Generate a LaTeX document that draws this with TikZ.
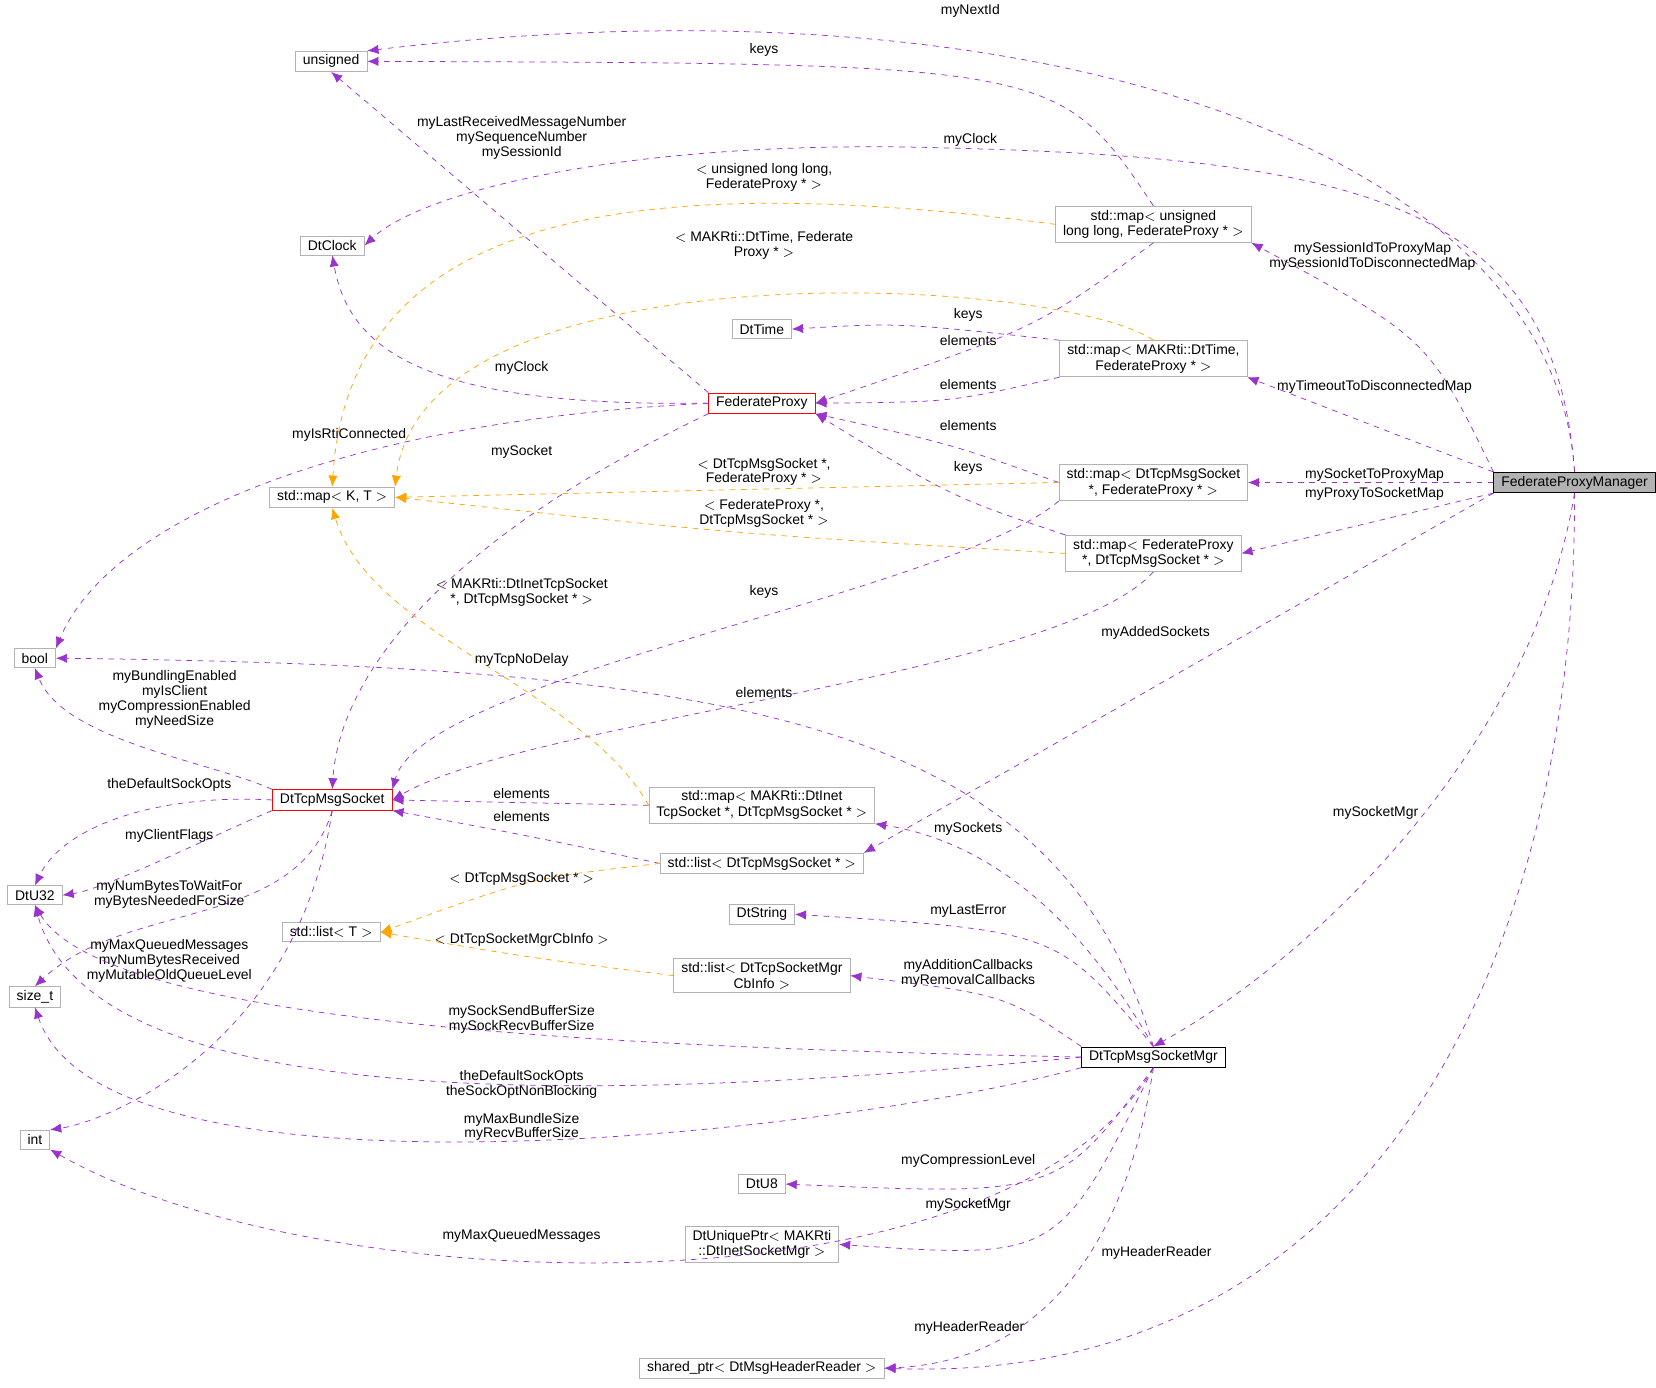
\documentclass[tikz,border=0pt]{standalone}
\usepackage{fontspec}
\setmainfont{Liberation Sans}
\usetikzlibrary{arrows.meta}
\definecolor{dep}{HTML}{9A32CD}
\definecolor{tmpl}{HTML}{FFA500}
\tikzset{
  cls/.style={draw=gray!60,fill=white,font=\fontsize{7.5}{8.5}\selectfont,align=center,inner xsep=4pt,inner ysep=2pt,minimum height=0.36cm},
  lbl/.style={font=\fontsize{7.5}{8}\selectfont,align=center,inner sep=0pt},
  use/.style={dep,dashed,thin,-{Latex[length=6pt,width=5pt]}},
  inst/.style={tmpl,dashed,thin,-{Latex[length=6pt,width=5pt]}}
}
\begin{document}
\begin{tikzpicture}[x=0.02cm,y=-0.02cm]
\useasboundingbox (0,0) rectangle (1565,1311);
% classes
\node[cls] (nUns) at (313,58) {unsigned};
\node[cls] (nClock) at (314,232) {DtClock};
\node[cls] (nTime) at (720,311) {DtTime};
\node[cls,draw=red] (nFP) at (720,381) {FederateProxy};
\node[cls] (nMapKT) at (314,470) {std::map$<$ K, T $>$};
\node[cls] (nBool) at (33,622) {bool};
\node[cls,draw=red] (nSock) at (314,756) {DtTcpMsgSocket};
\node[cls] (nU32) at (33,846) {DtU32};
\node[cls] (nListT) at (313,881) {std::list$<$ T $>$};
\node[cls] (nSize) at (33,942) {size\_t};
\node[cls] (nInt) at (33,1077) {int};
\node[cls] (mUll) at (1090,212) {std::map$<$ unsigned\\ long long, FederateProxy * $>$};
\node[cls] (mTime) at (1090,339) {std::map$<$ MAKRti::DtTime,\\FederateProxy * $>$};
\node[cls] (mSock) at (1090,456) {std::map$<$ DtTcpMsgSocket\\*, FederateProxy * $>$};
\node[cls] (mFP) at (1090,523) {std::map$<$ FederateProxy\\*, DtTcpMsgSocket * $>$};
\node[cls] (mInet) at (720,761) {std::map$<$ MAKRti::DtInet\\TcpSocket *, DtTcpMsgSocket * $>$};
\node[cls] (lSock) at (720,816) {std::list$<$ DtTcpMsgSocket * $>$};
\node[cls] (nStr) at (720,864) {DtString};
\node[cls] (lCb) at (720,922) {std::list$<$ DtTcpSocketMgr\\CbInfo $>$};
\node[cls,draw=black] (nMgr) at (1090,999) {DtTcpMsgSocketMgr};
\node[cls] (nU8) at (720,1119) {DtU8};
\node[cls] (nUniq) at (720,1176) {DtUniquePtr$<$ MAKRti\\::DtInetSocketMgr $>$};
\node[cls] (nShared) at (720,1293) {shared\_ptr$<$ DtMsgHeaderReader $>$};
\node[cls,draw=black,fill=gray!60] (nFPM) at (1488,456) {FederateProxyManager};
% FederateProxyManager
\draw[use] (nFPM.north) .. controls (1470,150) and (1000,-30) .. (nUns.north east);
\draw[use] (nFPM.north) .. controls (1470,200) and (1300,150) .. (900,140) .. controls (600,130) and (400,180) .. (nClock.east);
\draw[use] (nFPM.north west) .. controls (1350,320) .. (mUll.south east);
\draw[use] (nFPM.north west) -- (mTime.south east);
\draw[use] (nFPM.west) -- (mSock.east);
\draw[use] (nFPM.south west) -- (mFP.east);
\draw[use] (nFPM.south west) -- (lSock.north east);
\draw[use] (nFPM.south) .. controls (1450,700) and (1250,900) .. (nMgr.north);
\draw[use] (nFPM.south) .. controls (1490,900) and (1300,1310) .. (nShared.east);
\node[lbl] (l1) at (917,10) {myNextId};
\node[lbl] (l2) at (917,132) {myClock};
\node[lbl] (l3) at (1297,242) {mySessionIdToProxyMap\\mySessionIdToDisconnectedMap};
\node[lbl] (l4) at (1299,366) {myTimeoutToDisconnectedMap};
\node[lbl] (l5) at (1299,449) {mySocketToProxyMap};
\node[lbl] (l6) at (1299,467) {myProxyToSocketMap};
\node[lbl] (l7) at (1092,598) {myAddedSockets};
\node[lbl] (l8) at (1300,768) {mySocketMgr};
\node[lbl] (l9) at (1093,1184) {myHeaderReader};
% maps
\draw[use] (mUll.north) .. controls (1000,60) .. (nUns.east);
\draw[use] (mUll.south) .. controls (980,310) .. (nFP.east);
\draw[inst] (mUll.west) .. controls (600,160) and (330,200) .. (nMapKT.north);
\draw[use] (mTime.north west) .. controls (850,305) .. (nTime.east);
\draw[use] (mTime.south west) .. controls (900,380) .. (nFP.east);
\draw[inst] (mTime.north) .. controls (1000,260) and (400,230) .. (nMapKT.north east);
\draw[use] (mSock.west) .. controls (900,420) .. (nFP.south east);
\draw[inst] (mSock.west) -- (nMapKT.east);
\draw[use] (mSock.south west) .. controls (900,560) and (400,640) .. (nSock.north east);
\draw[use] (mFP.north west) .. controls (900,470) .. (nFP.south east);
\draw[inst] (mFP.west) .. controls (700,505) .. (nMapKT.east);
\draw[use] (mFP.south) .. controls (1000,640) and (500,680) .. (nSock.east);
\node[lbl] (l10) at (722,47) {keys};
\node[lbl] (l11) at (915,322) {elements};
\node[lbl] (l12) at (722,168) {$<$ unsigned long long,\\FederateProxy * $>$};
\node[lbl] (l13) at (915,298) {keys};
\node[lbl] (l14) at (915,363) {elements};
\node[lbl] (l15) at (722,232) {$<$ MAKRti::DtTime, Federate\\Proxy * $>$};
\node[lbl] (l16) at (915,402) {elements};
\node[lbl] (l17) at (722,446) {$<$ DtTcpMsgSocket *,\\FederateProxy * $>$};
\node[lbl] (l18) at (722,559) {keys};
\node[lbl] (l19) at (915,442) {keys};
\node[lbl] (l20) at (722,485) {$<$ FederateProxy *,\\DtTcpMsgSocket * $>$};
\node[lbl] (l21) at (722,654) {elements};
% FederateProxy
\draw[use] (nFP.north west) -- (nUns.south);
\draw[use] (nFP.west) .. controls (400,385) and (330,330) .. (nClock.south);
\draw[use] (nFP.west) .. controls (300,400) and (100,500) .. (nBool.north east);
\draw[use] (nFP.south west) .. controls (400,520) and (320,650) .. (nSock.north);
\node[lbl] (l22) at (493,130) {myLastReceivedMessageNumber\\mySequenceNumber\\mySessionId};
\node[lbl] (l23) at (493,348) {myClock};
\node[lbl] (l24) at (330,411) {myIsRtiConnected};
\node[lbl] (l25) at (493,427) {mySocket};
% DtTcpMsgSocket
\draw[use] (nSock.north west) .. controls (200,720) and (60,700) .. (nBool.south);
\draw[use] (nSock.west) .. controls (150,750) and (60,780) .. (nU32.north);
\draw[use] (nSock.south west) .. controls (200,790) and (100,840) .. (nU32.east);
\draw[use] (nSock.south) .. controls (280,880) and (120,850) .. (nSize.north);
\draw[use] (nSock.south) .. controls (280,990) and (100,1060) .. (nInt.north east);
\node[lbl] (l26) at (165,661) {myBundlingEnabled\\myIsClient\\myCompressionEnabled\\myNeedSize};
\node[lbl] (l27) at (160,742) {theDefaultSockOpts};
\node[lbl] (l28) at (160,790) {myClientFlags};
\node[lbl] (l29) at (160,845) {myNumBytesToWaitFor\\myBytesNeededForSize};
\node[lbl] (l30) at (160,908) {myMaxQueuedMessages\\myNumBytesReceived\\myMutableOldQueueLevel};
% containers of sockets
\draw[use] (mInet.west) -- (nSock.east);
\draw[inst] (mInet.west) .. controls (550,650) and (350,600) .. (nMapKT.south);
\draw[use] (lSock.west) .. controls (500,790) .. (nSock.south east);
\draw[inst] (lSock.west) .. controls (500,830) .. (nListT.east);
\draw[inst] (lCb.west) .. controls (500,905) .. (nListT.east);
\node[lbl] (l31) at (493,750) {elements};
\node[lbl] (l32) at (493,560) {$<$ MAKRti::DtInetTcpSocket\\*, DtTcpMsgSocket * $>$};
\node[lbl] (l33) at (493,772) {elements};
\node[lbl] (l34) at (493,831) {$<$ DtTcpMsgSocket * $>$};
\node[lbl] (l35) at (493,888) {$<$ DtTcpSocketMgrCbInfo $>$};
% DtTcpMsgSocketMgr
\draw[use] (nMgr.north) .. controls (1000,680) and (700,630) .. (nBool.east);
\draw[use] (nMgr.north) .. controls (1000,830) and (900,790) .. (mInet.south east);
\draw[use] (nMgr.north) .. controls (1000,880) .. (nStr.east);
\draw[use] (nMgr.north west) .. controls (950,940) .. (lCb.east);
\draw[use] (nMgr.west) .. controls (600,990) and (100,970) .. (nU32.south);
\draw[use] (nMgr.west) .. controls (600,1040) and (90,1060) .. (nU32.south);
\draw[use] (nMgr.south west) .. controls (800,1070) and (100,1150) .. (nSize.south);
\draw[use] (nMgr.south) .. controls (950,1250) and (300,1230) .. (nInt.south east);
\draw[use] (nMgr.south) .. controls (1000,1130) .. (nU8.east);
\draw[use] (nMgr.south) .. controls (1000,1190) .. (nUniq.east);
\draw[use] (nMgr.south) .. controls (1050,1270) and (900,1290) .. (nShared.east);
\node[lbl] (l36) at (493,624) {myTcpNoDelay};
\node[lbl] (l37) at (915,783) {mySockets};
\node[lbl] (l38) at (915,861) {myLastError};
\node[lbl] (l39) at (915,920) {myAdditionCallbacks\\myRemovalCallbacks};
\node[lbl] (l40) at (493,963) {mySockSendBufferSize\\mySockRecvBufferSize};
\node[lbl] (l41) at (493,1025) {theDefaultSockOpts\\theSockOptNonBlocking};
\node[lbl] (l42) at (493,1065) {myMaxBundleSize\\myRecvBufferSize};
\node[lbl] (l43) at (493,1168) {myMaxQueuedMessages};
\node[lbl] (l44) at (915,1097) {myCompressionLevel};
\node[lbl] (l45) at (915,1139) {mySocketMgr};
\node[lbl] (l46) at (916,1255) {myHeaderReader};
\end{tikzpicture}
\end{document}
